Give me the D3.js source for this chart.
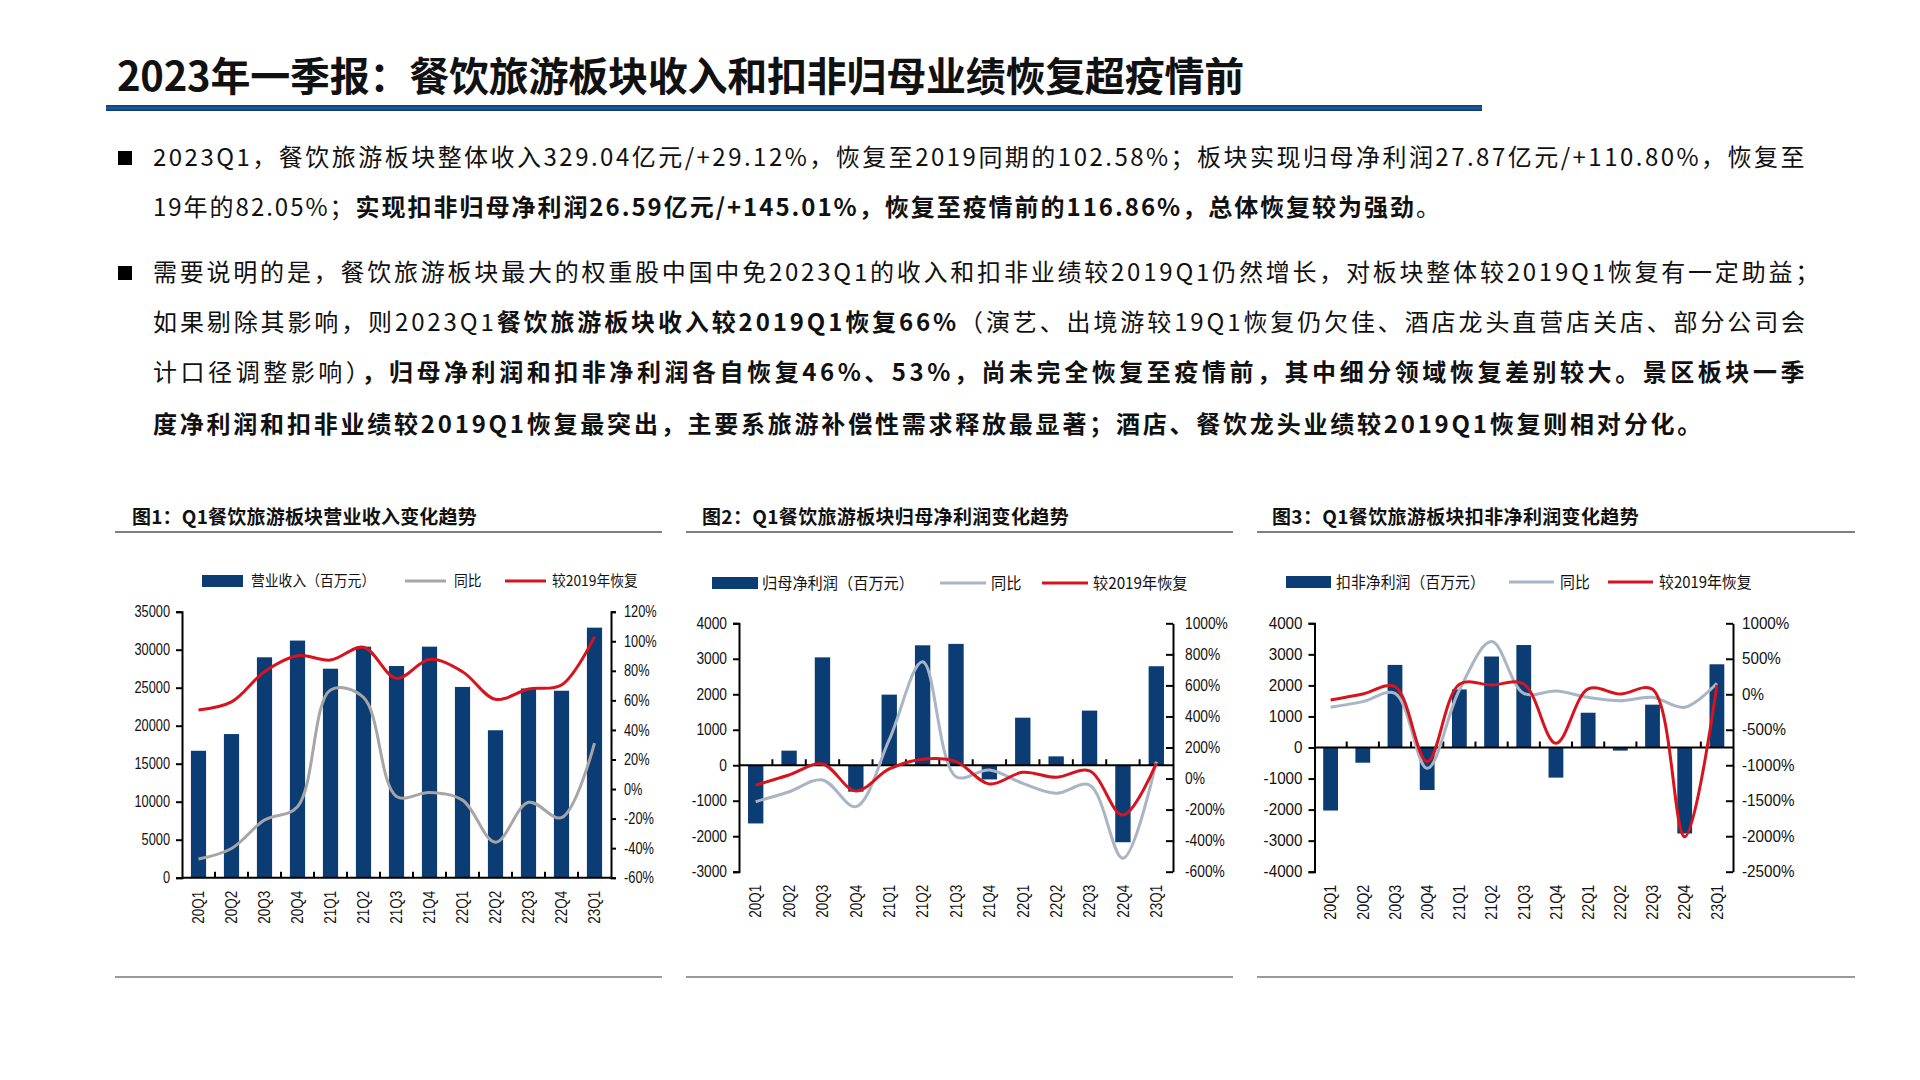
<!DOCTYPE html>
<meta charset="utf-8">
<style>
body { margin: 0; background: #fff; }
svg text { font-family: "Noto Sans CJK SC", "Noto Sans", sans-serif; fill: #111; }
.num { font-family: "Liberation Sans", Arial, sans-serif; }
</style>
<svg width="1920" height="1080"></svg>
<script src="https://cdn.jsdelivr.net/npm/d3@7/dist/d3.min.js"></script>
<script>

// ---- data ----
var quarters = ["20Q1","20Q2","20Q3","20Q4","21Q1","21Q2","21Q3","21Q4","22Q1","22Q2","22Q3","22Q4","23Q1"];

var revenue       = [16700, 18900, 29000, 31200, 27500, 30400, 27850, 30400, 25100, 19400, 24900, 24600, 32900];
var revenueYoy    = [-47.4, -40.2, -21, -12, 67, 62, -5, -2.3, -7.5, -36, -9, -19.4, 31];
var revenueVs2019 = [53.5, 59, 79.4, 90.2, 87.3, 95.9, 74.9, 87.7, 79.4, 60.7, 67.7, 70.4, 103];

var netProfit       = [-1640, 411, 3040, -745, 1990, 3380, 3420, -400, 1340, 250, 1540, -2170, 2790];
var netProfitYoy    = [-149, -85, -9, -181, 250, 753, 12, 55, -31, -95, -42, -514, 109];
var netProfitVs2019 = [-42, 23, 94, -80, 62, 124, 109, -35, 40, 8, 49, -235, 98];

var deductProfit       = [-2030, -490, 2660, -1370, 1870, 2930, 3300, -970, 1120, -100, 1380, -2770, 2680];
var deductProfitYoy    = [-184, -104, 13, -1044, 60, 742, 13, 46, -43, -90, -43, -184, 154];
var deductProfitVs2019 = [-81, 4, 107, -950, 140, 131, 145, -691, 75, 4, 70, -2007, 131];

var revenueTicks   = [0, 5000, 10000, 15000, 20000, 25000, 30000, 35000];
var revenuePct     = [-60, -40, -20, 0, 20, 40, 60, 80, 100, 120];
var netProfitTicks = [-3000, -2000, -1000, 0, 1000, 2000, 3000, 4000];
var netProfitPct   = [-600, -400, -200, 0, 200, 400, 600, 800, 1000];
var deductTicks    = [-4000, -3000, -2000, -1000, 0, 1000, 2000, 3000, 4000];
var deductPct      = [-2500, -2000, -1500, -1000, -500, 0, 500, 1000];

var pageTitle = "2023年一季报：餐饮旅游板块收入和扣非归母业绩恢复超疫情前";

// each line: [segments], segment = [text, bold]
var bodyLines = [
  [["2023Q1，餐饮旅游板块整体收入329.04亿元/+29.12%，恢复至2019同期的102.58%；板块实现归母净利润27.87亿元/+110.80%，恢复至", false]],
  [["19年的82.05%；", false], ["实现扣非归母净利润26.59亿元/+145.01%，恢复至疫情前的116.86%，总体恢复较为强劲", true], ["。", false]],
  [["需要说明的是，餐饮旅游板块最大的权重股中国中免2023Q1的收入和扣非业绩较2019Q1仍然增长，对板块整体较2019Q1恢复有一定助益；", false]],
  [["如果剔除其影响，则2023Q1", false], ["餐饮旅游板块收入较2019Q1恢复66%", true], ["（演艺、出境游较19Q1恢复仍欠佳、酒店龙头直营店关店、部分公司会", false]],
  [["计口径调整影响）", false], ["，归母净利润和扣非净利润各自恢复46%、53%，尚未完全恢复至疫情前，其中细分领域恢复差别较大。景区板块一季", true]],
  [["度净利润和扣非业绩较2019Q1恢复最突出，主要系旅游补偿性需求释放最显著；酒店、餐饮龙头业绩较2019Q1恢复则相对分化。", true]]
];

var svg = d3.select("svg");

svg.append("rect").attr("width", 1920).attr("height", 1080).attr("fill", "#fff");

// ---- header ----
var defs = svg.append("defs");
var grad = defs.append("linearGradient").attr("id", "titleBar")
    .attr("x1", 0).attr("y1", 0).attr("x2", 0).attr("y2", 1);
grad.append("stop").attr("offset", "0%").attr("stop-color", "#0e3f78");
grad.append("stop").attr("offset", "55%").attr("stop-color", "#1d5d9e");
grad.append("stop").attr("offset", "100%").attr("stop-color", "#0b3466");

function fit(sel, target) {
  var node = sel.node();
  var len = node.getComputedTextLength();
  var n = node.textContent.length;
  sel.attr("letter-spacing", (target - len) / n);
}

// squeeze text horizontally to look like a condensed face
function squeeze(sel, k) {
  sel.each(function() {
    var len = this.getComputedTextLength();
    d3.select(this).attr("textLength", len * k).attr("lengthAdjust", "spacingAndGlyphs");
  });
}

var title = svg.append("text")
    .attr("x", 117).attr("y", 91)
    .attr("font-size", 40).attr("font-weight", 700)
    .text(pageTitle);
fit(title, 1127);

svg.append("rect").attr("x", 106).attr("y", 105).attr("width", 1376).attr("height", 6)
    .attr("fill", "url(#titleBar)");

// ---- body text ----
var lineY = [166, 216, 281, 331, 381, 433];
var lineEnd = [1807, 1442, 1822, 1808, 1808, 1704];

[158, 273].forEach(function(cy) {
  svg.append("rect").attr("x", 118).attr("y", cy - 7).attr("width", 14).attr("height", 14).attr("fill", "#000");
});

bodyLines.forEach(function(segs, i) {
  var t = svg.append("text").attr("x", 153).attr("y", lineY[i]).attr("font-size", 24);
  segs.forEach(function(s) {
    t.append("tspan").attr("font-weight", s[1] ? 700 : 400).text(s[0]);
  });
  fit(t, lineEnd[i] - 153);
});

// ---- charts ----
var charts = [
  {
    title: "图1：Q1餐饮旅游板块营业收入变化趋势", titleX: 132, titleW: 345, frame: [115, 662],
    x0: 182, x1: 611, yTop: 611.7, yBot: 877.7,
    bars: revenue, yoy: revenueYoy, vs: revenueVs2019,
    leftTicks: revenueTicks, rightTicks: revenuePct,
    gray: "#a6a6a6",
    legend: ["营业收入（百万元）", "同比", "较2019年恢复"],
    legSym: [202, 405, 505], legText: [251, 454, 552], legW: 41, legY: 581, legFont: 15, legSq: 0.92,
    tickFont: 16, tickSq: 0.8, xFont: 16, xLen: 33, rightGap: 8, rightTickIn: false
  },
  {
    title: "图2：Q1餐饮旅游板块归母净利润变化趋势", titleX: 702, titleW: 367, frame: [686, 1233],
    x0: 739, x1: 1173, yTop: 623.3, yBot: 871.7,
    bars: netProfit, yoy: netProfitYoy, vs: netProfitVs2019,
    leftTicks: netProfitTicks, rightTicks: netProfitPct,
    gray: "#a9b5c4",
    legend: ["归母净利润（百万元）", "同比", "较2019年恢复"],
    legSym: [712, 940, 1042], legText: [762, 991, 1093], legW: 46, legY: 583, legFont: 16, legSq: 0.95,
    tickFont: 16, tickSq: 0.86, xFont: 16, xLen: 33, rightGap: 12, rightTickIn: true
  },
  {
    title: "图3：Q1餐饮旅游板块扣非净利润变化趋势", titleX: 1272, titleW: 367, frame: [1257, 1855],
    x0: 1314.5, x1: 1733, yTop: 623.3, yBot: 871.7,
    bars: deductProfit, yoy: deductProfitYoy, vs: deductProfitVs2019,
    leftTicks: deductTicks, rightTicks: deductPct,
    gray: "#a9b5c4",
    legend: ["扣非净利润（百万元）", "同比", "较2019年恢复"],
    legSym: [1286, 1509, 1608], legText: [1336, 1560, 1659], legW: 45, legY: 582, legFont: 16, legSq: 0.93,
    tickFont: 16, tickSq: 0.95, xFont: 16, xLen: 35, rightGap: 9, rightTickIn: true
  }
];

var barColor = "#0b3c74";
var red = "#d7141e";

charts.forEach(drawChart);

function drawChart(c) {
  var g = svg.append("g");

  // title and frame lines
  var t = g.append("text").attr("x", c.titleX).attr("y", 524)
      .attr("font-size", 19).attr("font-weight", 700).text(c.title);
  fit(t, c.titleW);
  g.append("line").attr("x1", c.frame[0]).attr("x2", c.frame[1]).attr("y1", 532).attr("y2", 532)
      .attr("stroke", "#555").attr("stroke-width", 1.5);
  g.append("line").attr("x1", c.frame[0]).attr("x2", c.frame[1]).attr("y1", 977).attr("y2", 977)
      .attr("stroke", "#777").attr("stroke-width", 1.5);

  var x = d3.scaleBand().domain(quarters).range([c.x0, c.x1]).paddingInner(0.54).paddingOuter(0.27);
  var step = x.step();
  var yL = d3.scaleLinear().domain([c.leftTicks[0], c.leftTicks[c.leftTicks.length - 1]]).range([c.yBot, c.yTop]);
  var yR = d3.scaleLinear().domain([c.rightTicks[0], c.rightTicks[c.rightTicks.length - 1]]).range([c.yBot, c.yTop]);
  var cx = function(d, i) { return x(quarters[i]) + x.bandwidth() / 2; };

  // bars
  g.selectAll(".bar").data(c.bars).enter().append("rect")
      .attr("x", function(d, i) { return x(quarters[i]); })
      .attr("width", x.bandwidth())
      .attr("y", function(d) { return yL(Math.max(0, d)); })
      .attr("height", function(d) { return Math.abs(yL(d) - yL(0)); })
      .attr("fill", barColor);

  // left axis
  var left = g.append("g").attr("transform", "translate(" + c.x0 + ",0)")
      .call(d3.axisLeft(yL).tickValues(c.leftTicks).tickSize(6).tickPadding(6).tickFormat(function(d) { return String(d); }));
  // right axis
  var right = g.append("g").attr("transform", "translate(" + c.x1 + ",0)")
      .call(d3.axisRight(yR).tickValues(c.rightTicks).tickSize(c.rightTickIn ? 0 : 5).tickPadding(c.rightGap)
        .tickFormat(function(d) { return d + "%"; }));
  if (c.rightTickIn) {
    right.selectAll(".tick line").attr("x2", -7);
  }
  [left, right].forEach(function(ax) {
    ax.select(".domain").attr("stroke", "#000").attr("stroke-width", 2);
    ax.selectAll(".tick line").attr("stroke", "#000").attr("stroke-width", 2);
    var tx = ax.selectAll(".tick text").attr("class", "num").attr("font-size", c.tickFont).attr("fill", "#222");
    squeeze(tx, c.tickSq);
  });

  // x axis at zero
  var y0 = yL(0);
  g.append("line").attr("x1", c.x0).attr("x2", c.x1).attr("y1", y0).attr("y2", y0)
      .attr("stroke", "#000").attr("stroke-width", 2);
  g.selectAll(".xtick").data(quarters.slice(1)).enter().append("line")
      .attr("x1", function(d) { return x(d) - step * 0.27; })
      .attr("x2", function(d) { return x(d) - step * 0.27; })
      .attr("y1", y0).attr("y2", y0 - 6)
      .attr("stroke", "#000").attr("stroke-width", 2);

  // x labels, rotated
  g.selectAll(".xlab").data(quarters).enter().append("text")
      .attr("class", "num")
      .attr("font-size", c.xFont).attr("fill", "#222")
      .attr("text-anchor", "end")
      .attr("textLength", c.xLen).attr("lengthAdjust", "spacingAndGlyphs")
      .attr("transform", function(d, i) {
        return "translate(" + (cx(d, i) + c.xFont * 0.36) + "," + (c.yBot + 13) + ") rotate(-90)";
      })
      .text(function(d) { return d; });

  // lines
  var line = d3.line().x(function(d, i) { return cx(d, i); }).y(function(d) { return yR(d); })
      .curve(d3.curveCatmullRom.alpha(0.5));
  g.append("path").datum(c.yoy).attr("d", line).attr("fill", "none")
      .attr("stroke", c.gray).attr("stroke-width", 3);
  g.append("path").datum(c.vs).attr("d", line).attr("fill", "none")
      .attr("stroke", red).attr("stroke-width", 3);

  // legend
  var ly = c.legY;
  g.append("rect").attr("x", c.legSym[0]).attr("y", ly - 6).attr("width", c.legW).attr("height", 12).attr("fill", barColor);
  g.append("line").attr("x1", c.legSym[1]).attr("x2", c.legSym[1] + c.legW).attr("y1", ly).attr("y2", ly)
      .attr("stroke", c.gray).attr("stroke-width", 3);
  g.append("line").attr("x1", c.legSym[2]).attr("x2", c.legSym[2] + c.legW).attr("y1", ly).attr("y2", ly)
      .attr("stroke", red).attr("stroke-width", 3);
  c.legend.forEach(function(name, i) {
    var lt = g.append("text").attr("x", c.legText[i]).attr("y", ly + c.legFont * 0.36)
        .attr("font-size", c.legFont).attr("fill", "#333").text(name);
    squeeze(lt, c.legSq);
  });
}

</script>
